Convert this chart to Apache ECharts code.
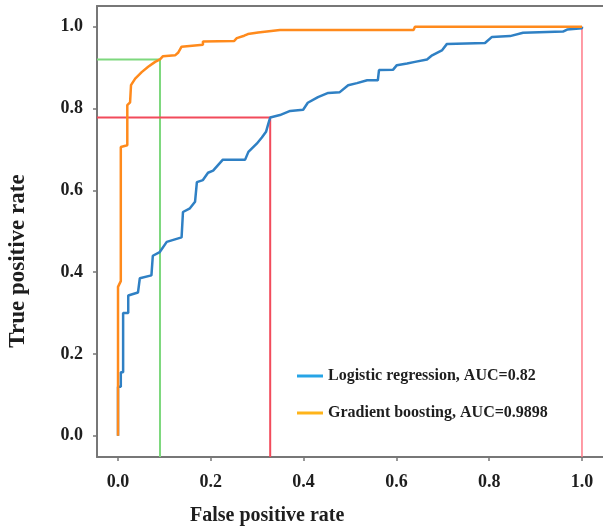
<!DOCTYPE html>
<html>
<head>
<meta charset="utf-8">
<script src="https://cdn.jsdelivr.net/npm/echarts@6/dist/echarts.min.js"></script>
<style>html,body{margin:0;padding:0;background:#fff}#c{width:603px;height:531px}</style>
</head>
<body>
<div id="c"></div>
<script>
// ---- data ----
const seriesNames = ['Logistic regression, AUC=0.82', 'Gradient boosting, AUC=0.9898'];
const tickValues = [0, 0.2, 0.4, 0.6, 0.8, 1.0];
const xLabel = 'False positive rate';
const yLabel = 'True positive rate';
const logisticFpr = [0,0,0.006,0.006,0.011,0.011,0.022,0.022,0.043,0.047,0.072,0.075,0.09,0.105,0.137,0.14,0.155,0.166,0.17,0.183,0.194,0.205,0.226,0.274,0.281,0.299,0.31,0.319,0.324,0.328,0.349,0.371,0.399,0.409,0.431,0.453,0.478,0.496,0.515,0.537,0.56,0.5625,0.593,0.601,0.623,0.64,0.666,0.677,0.698,0.709,0.791,0.806,0.845,0.873,0.959,0.968,1.0,1.0];
const logisticTpr = [0,0.12,0.12,0.155,0.155,0.30,0.30,0.343,0.35,0.385,0.392,0.44,0.449,0.474,0.485,0.547,0.556,0.572,0.62,0.625,0.643,0.648,0.675,0.675,0.694,0.714,0.729,0.743,0.763,0.778,0.784,0.794,0.797,0.814,0.828,0.838,0.84,0.857,0.862,0.869,0.869,0.894,0.895,0.906,0.91,0.914,0.92,0.93,0.942,0.958,0.96,0.975,0.977,0.985,0.988,0.993,0.996,1.0];
const boostFpr = [0,0,0.006,0.006,0.02,0.02,0.026,0.028,0.037,0.051,0.065,0.08,0.0905,0.097,0.123,0.13,0.137,0.183,0.183,0.25,0.256,0.272,0.28,0.302,0.349,0.637,0.64,1.0];
const boostTpr = [0,0.364,0.378,0.706,0.71,0.808,0.815,0.857,0.873,0.889,0.902,0.914,0.92,0.928,0.93,0.937,0.951,0.956,0.964,0.965,0.972,0.978,0.982,0.986,0.992,0.992,1.0,1.0];
const greenThreshold = [0.0905, 0.92];
const redThreshold = [0.328, 0.778];
const xMin = -0.0453, xMax = 1.0453, yMin = -0.052, yMax = 1.0506;

const zip = (a, b) => a.map((v, i) => [v, b[i]]);
const greenLine = [[xMin, greenThreshold[1]], [greenThreshold[0], greenThreshold[1]], [greenThreshold[0], yMin]];
const redLine = [[xMin, redThreshold[1]], [redThreshold[0], redThreshold[1]], [redThreshold[0], yMin]];
const redEdge = [[1.0, 1.0], [1.0, yMin]];

const serif = 'Liberation Serif';
const axisColor = '#777';
const chart = echarts.init(document.getElementById('c'), null, {renderer: 'canvas'});
chart.setOption({
  animation: false,
  backgroundColor: '#fff',
  grid: {left: 97, top: 6, right: 0, height: 451, show: false},
  xAxis: [{
    type: 'value', min: xMin, max: xMax,
    axisLine: {show: true, onZero: false, lineStyle: {color: axisColor, width: 2}},
    axisTick: {show: true, length: 4, customValues: tickValues, lineStyle: {color: axisColor, width: 1.5}},
    axisLabel: {customValues: tickValues, formatter: v => v.toFixed(1), margin: 16, fontFamily: serif, fontWeight: 'bold', fontSize: 18, color: '#1e1e1e'},
    splitLine: {show: false}
  }, {
    type: 'value', position: 'top', min: xMin, max: xMax,
    axisLine: {show: true, onZero: false, lineStyle: {color: axisColor, width: 2}},
    axisTick: {show: false}, axisLabel: {show: false}, splitLine: {show: false}
  }],
  yAxis: {
    type: 'value', min: yMin, max: yMax,
    axisLine: {show: true, onZero: false, lineStyle: {color: axisColor, width: 2}},
    axisTick: {show: true, length: 4, customValues: tickValues, lineStyle: {color: axisColor, width: 1.5}},
    axisLabel: {customValues: tickValues, formatter: v => v.toFixed(1), margin: 14, fontFamily: serif, fontWeight: 'bold', fontSize: 18, color: '#1e1e1e'},
    splitLine: {show: false}
  },
  legend: {
    orient: 'vertical', left: 292, top: 363, itemWidth: 26, itemHeight: 3, itemGap: 21,
    icon: 'rect',
    textStyle: {fontFamily: serif, fontWeight: 'bold', fontSize: 16, color: '#1e1e1e'},
    data: [
      {name: seriesNames[0], itemStyle: {color: '#26a4e6'}},
      {name: seriesNames[1], itemStyle: {color: '#ffb41a'}}
    ]
  },
  graphic: [
    {type: 'text', left: 190, top: 506, style: {text: xLabel, font: 'bold 20px "Liberation Serif"', fill: '#1e1e1e'}},
    {type: 'text', x: 7, y: 261, rotation: Math.PI / 2, style: {text: yLabel, font: 'bold 23px "Liberation Serif"', fill: '#1e1e1e', align: 'center', verticalAlign: 'top'}}
  ],
  series: [
    {type: 'line', name: 'green', data: greenLine, showSymbol: false, silent: true, lineStyle: {color: '#7ed87e', width: 2}, z: 1},
    {type: 'line', name: 'red', data: redLine, showSymbol: false, silent: true, lineStyle: {color: '#f24b5b', width: 2}, z: 1},
    {type: 'line', name: 'redEdge', data: redEdge, showSymbol: false, silent: true, lineStyle: {color: '#ff7a88', width: 1.5}, z: 1},
    {type: 'line', name: seriesNames[0], data: zip(logisticFpr, logisticTpr), showSymbol: false, lineStyle: {color: '#2f80c4', width: 2.5}, itemStyle: {color: '#2f80c4'}, z: 2},
    {type: 'line', name: seriesNames[1], data: zip(boostFpr, boostTpr), showSymbol: false, lineStyle: {color: '#ff8a1c', width: 2.5}, itemStyle: {color: '#ff8a1c'}, z: 3}
  ]
});
</script>
</body>
</html>
